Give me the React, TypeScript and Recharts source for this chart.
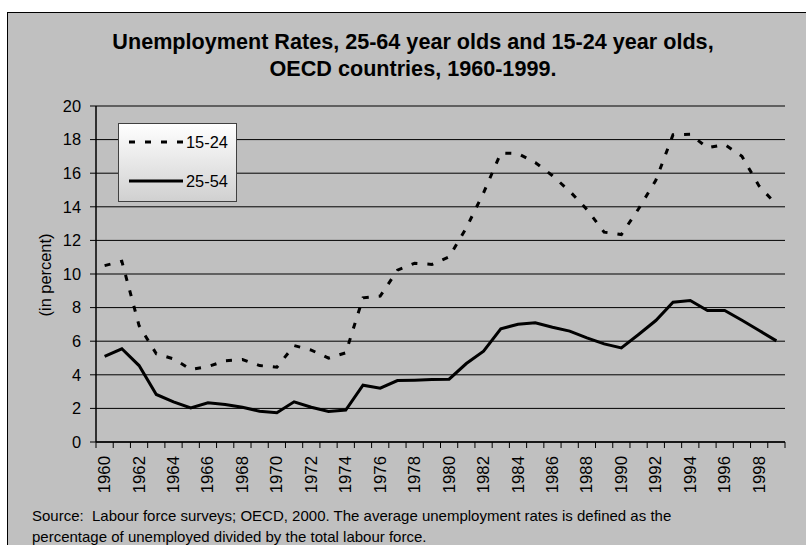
import { CartesianGrid, Legend, Line, LineChart, XAxis, YAxis } from "recharts"

const years = [
  "1960", "1961", "1962", "1963", "1964", "1965", "1966", "1967", "1968", "1969",
  "1970", "1971", "1972", "1973", "1974", "1975", "1976", "1977", "1978", "1979",
  "1980", "1981", "1982", "1983", "1984", "1985", "1986", "1987", "1988", "1989",
  "1990", "1991", "1992", "1993", "1994", "1995", "1996", "1997", "1998", "1999",
]

// 15-24 year olds
const youth = [
  10.5, 10.76, 6.93, 5.25, 4.95, 4.32, 4.49, 4.83, 4.91, 4.55,
  4.45, 5.74, 5.47, 4.99, 5.31, 8.58, 8.68, 10.23, 10.64, 10.57,
  11.02, 12.75, 14.83, 17.2, 17.17, 16.64, 15.85, 14.93, 13.84, 12.49,
  12.35, 13.88, 15.58, 18.29, 18.32, 17.51, 17.71, 17.01, 15.23, 14.14,
]

// 25-54 year olds
const prime = [
  5.1, 5.55, 4.55, 2.83, 2.39, 2.03, 2.33, 2.23, 2.07, 1.83,
  1.74, 2.39, 2.07, 1.82, 1.9, 3.38, 3.2, 3.66, 3.68, 3.72,
  3.74, 4.67, 5.4, 6.74, 7.01, 7.1, 6.83, 6.6, 6.2, 5.84,
  5.6, 6.4, 7.23, 8.32, 8.42, 7.83, 7.83, 7.25, 6.64, 6.02,
]

const yTicks = [0, 2, 4, 6, 8, 10, 12, 14, 16, 18, 20]

const series = [
  { key: "youth", name: "15-24", dash: "6 10" },
  { key: "prime", name: "25-54", dash: undefined },
]

const data = years.map((year, i) => ({ year, youth: youth[i], prime: prime[i] }))

const FONT = "'Liberation Sans', Arial, sans-serif"
const BG = "#c0c0c0"
const PLOT_W = 689

const YearTick = (props: any) => {
  const { x, y, payload, index } = props
  const step = PLOT_W / years.length
  const last = index === years.length - 1
  const showLabel = Number(payload.value) % 2 === 0
  return (
    <g>
      <line x1={x - step / 2} x2={x - step / 2} y1={y} y2={y + 6} stroke="#000" />
      {last && <line x1={x + step / 2} x2={x + step / 2} y1={y} y2={y + 6} stroke="#000" />}
      {showLabel && (
        <text
          transform={`translate(${x},${y + 14}) rotate(-90)`}
          textAnchor="end"
          dominantBaseline="central"
          fontSize={16.8}
          fontFamily={FONT}
          fill="#000"
        >
          {payload.value}
        </text>
      )}
    </g>
  )
}

const LegendBox = () => (
  <svg width={119} height={79} style={{ display: "block" }}>
    <defs>
      <linearGradient id="legendFill" x1="0" y1="0" x2="0" y2="1">
        <stop offset="0%" stopColor="#ffffff" />
        <stop offset="100%" stopColor="#d0d0d0" />
      </linearGradient>
    </defs>
    <rect x={0.5} y={0.5} width={118} height={78} fill="url(#legendFill)" stroke="#404040" />
    {series.map((s, i) => (
      <g key={s.key}>
        <line
          x1={11}
          x2={65}
          y1={19 + i * 39}
          y2={19 + i * 39}
          stroke="#000"
          strokeWidth={3}
          strokeDasharray={s.dash}
        />
        <text
          x={68}
          y={19 + i * 39}
          dominantBaseline="central"
          fontSize={16.4}
          fontFamily={FONT}
          fill="#000"
        >
          {s.name}
        </text>
      </g>
    ))}
  </svg>
)

export default function App() {
  return (
    <div
      style={{
        position: "absolute",
        left: 0,
        top: 0,
        width: 806,
        height: 545,
        overflow: "hidden",
        background: "#fff",
        fontFamily: FONT,
      }}
    >
      <div
        style={{
          position: "absolute",
          left: 7,
          top: 12,
          width: 830,
          height: 560,
          border: "1px solid #000",
          background: BG,
        }}
      />
      <div
        style={{
          position: "absolute",
          left: 0,
          top: 28,
          width: 826,
          textAlign: "center",
          fontWeight: "bold",
          fontSize: 21.6,
          lineHeight: "27px",
          color: "#000",
        }}
      >
        Unemployment Rates, 25-64 year olds and 15-24 year olds,
        <br />
        OECD countries, 1960-1999.
      </div>
      <div style={{ position: "absolute", left: 0, top: 0 }}>
        <LineChart
          width={806}
          height={545}
          data={data}
          margin={{ top: 106, right: 21, bottom: 43, left: 36 }}
        >
          <CartesianGrid vertical={false} stroke="#000" />
          <XAxis
            dataKey="year"
            interval={0}
            padding={{ left: PLOT_W / years.length / 2, right: PLOT_W / years.length / 2 }}
            tick={<YearTick />}
            tickLine={false}
            tickSize={0}
            tickMargin={0}
            height={60}
            axisLine={{ stroke: "#000", strokeWidth: 1.5 }}
          />
          <XAxis
            xAxisId="top"
            orientation="top"
            dataKey="year"
            height={0}
            tick={false}
            tickLine={false}
            axisLine={{ stroke: "#808080" }}
          />
          <YAxis
            domain={[0, 20]}
            ticks={yTicks}
            interval={0}
            width={60}
            tickSize={6}
            tickMargin={9}
            tickLine={{ stroke: "#000" }}
            axisLine={{ stroke: "#000", strokeWidth: 1.5 }}
            tick={{ fill: "#000", fontSize: 16.4, fontFamily: FONT }}
          />
          <YAxis
            yAxisId="right"
            orientation="right"
            domain={[0, 20]}
            width={0}
            tick={false}
            tickLine={false}
            axisLine={{ stroke: "#808080" }}
          />
          <Legend
            layout="vertical"
            align="center"
            verticalAlign="middle"
            wrapperStyle={{ left: 118, top: 123, width: 119, height: 79 }}
            content={<LegendBox />}
          />
          {series.map((s) => (
            <Line
              key={s.key}
              type="linear"
              dataKey={s.key}
              name={s.name}
              stroke="#000"
              strokeWidth={3}
              strokeDasharray={s.dash}
              dot={false}
              activeDot={false}
              isAnimationActive={false}
            />
          ))}
        </LineChart>
      </div>
      <div
        style={{
          position: "absolute",
          left: 45,
          top: 275,
          transform: "translate(-50%, -50%) rotate(-90deg)",
          fontSize: 16.4,
          whiteSpace: "nowrap",
          color: "#000",
        }}
      >
        (in percent)
      </div>
      <div
        style={{
          position: "absolute",
          left: 32,
          top: 506,
          fontSize: 15,
          lineHeight: "20.5px",
          whiteSpace: "pre",
          color: "#000",
        }}
      >
        {"Source:  Labour force surveys; OECD, 2000. The average unemployment rates is defined as the\npercentage of unemployed divided by the total labour force."}
      </div>
    </div>
  )
}
